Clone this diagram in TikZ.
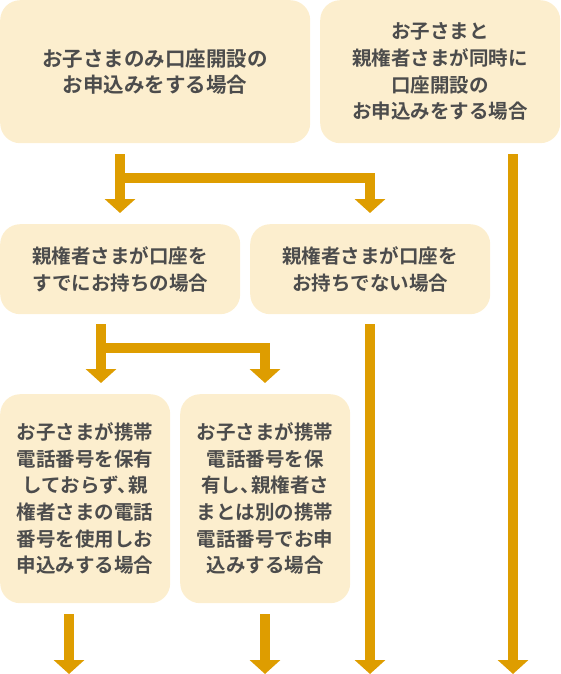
\documentclass[tikz,border=0pt]{standalone}
\usepackage{fontspec}
\usetikzlibrary{arrows.meta}
\newfontfamily\cjk{Noto Sans CJK JP}[BoldFont={Noto Sans CJK JP Bold}]
\definecolor{boxc}{HTML}{FCEECE}
\definecolor{arrc}{HTML}{DE9D00}
\definecolor{txtc}{HTML}{4C4C4C}
\newcommand{\tcomma}{、\kern-0.45em}
\begin{document}
\begin{tikzpicture}[x=1pt,y=-1pt,
  box/.style={fill=boxc, rounded corners=20pt, inner sep=0pt, align=center,
    text=txtc, font=\cjk\bfseries\fontsize{19.5}{26.7}\selectfont, anchor=north west},
  bigbox/.style={box, font=\cjk\bfseries\fontsize{20.5}{26.7}\selectfont},
  arr/.style={draw=arrc, line width=10pt, line cap=butt, line join=miter,
    -{Triangle[width=30pt,length=14pt]}}]
\useasboundingbox (0,0) rectangle (560,674);
\node[bigbox, minimum width=310pt, minimum height=143pt] (b1) at (0,0)
  {お子さまのみ口座開設の\\お申込みをする場合};
\node[box, minimum width=240pt, minimum height=143pt] (b2) at (320,0)
  {お子さまと\\親権者さまが同時に\\口座開設の\\お申込みをする場合};
\node[box, minimum width=240pt, minimum height=90pt] (b3) at (0,224)
  {親権者さまが口座を\\すでにお持ちの場合};
\node[box, minimum width=240pt, minimum height=90pt] (b4) at (250,224)
  {親権者さまが口座を\\お持ちでない場合};
\node[box, minimum width=170pt, minimum height=209pt] (b5) at (0,394)
  {お子さまが携帯\\電話番号を保有\\しておらず\tcomma 親\\権者さまの電話\\番号を使用しお\\申込みする場合};
\node[box, minimum width=170pt, minimum height=209pt] (b6) at (180,394)
  {お子さまが携帯\\電話番号を保\\有し\tcomma 親権者さ\\まとは別の携帯\\電話番号でお申\\込みする場合};
\coordinate (e2) at (513,674);
\coordinate (e4) at (370,674);
\coordinate (e5) at (69,674);
\coordinate (e6) at (265,674);
% row 1
\draw[arr] ([shift={(120,11)}]b1.south west) -- ([shift={(120,-11)}]b3.north west);
\draw[arr] ([shift={(120,35)}]b1.south west) -| ([shift={(120,-11)}]b4.north west);
\draw[arr] ([shift={(193,11)}]b2.south west) -- (e2);
% row 2
\draw[arr] ([shift={(101,10)}]b3.south west) -- ([shift={(101,-11)}]b5.north west);
\draw[arr] ([shift={(101,34)}]b3.south west) -| ([shift={(85,-11)}]b6.north west);
\draw[arr] ([shift={(120,10)}]b4.south west) -- (e4);
% row 3
\draw[arr] ([shift={(69,11)}]b5.south west) -- (e5);
\draw[arr] ([shift={(85,11)}]b6.south west) -- (e6);
\end{tikzpicture}
\end{document}
